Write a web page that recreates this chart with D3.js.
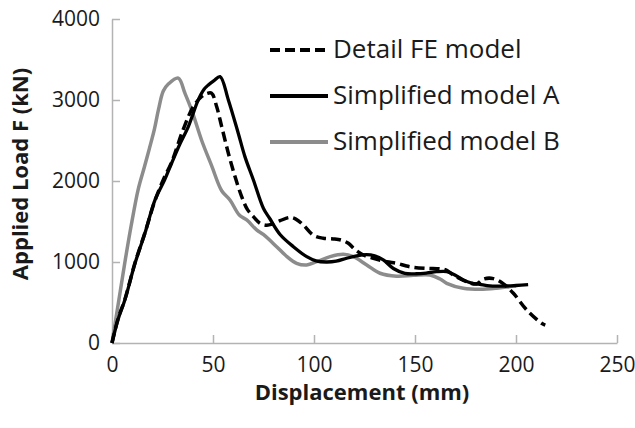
<!DOCTYPE html>
<html>
<head>
<meta charset="utf-8">
<script src="https://cdn.jsdelivr.net/npm/d3@7"></script>
<style>
  body { margin: 0; background: #fff; }
  text { font-family: "Open Sans", sans-serif; fill: #1a1a1a; }
</style>
</head>
<body>
<div id="chart"></div>
<script>
// series names, legend order
const seriesNames = ["Detail FE model", "Simplified model A", "Simplified model B"]

// Detail FE model (dashed)
const detailX = [0, 3, 6.4, 11.4, 16.3, 21.3, 26, 29.5, 35.3, 40.3, 44.4, 47, 49.3, 51.8, 54.3, 57.6, 60.9, 64.2, 67, 70, 73.3, 76.6, 79.5, 83.2, 88.1, 91, 94.7, 99.7, 104.6, 109.6, 113.5, 117, 120, 124.4, 129.4, 136, 141, 145.8, 149.2, 155.8, 162.4, 165, 169, 175.6, 180.5, 184, 188.8, 193.8, 198.7, 205.3, 212.7, 214.5]
const detailY = [0, 300, 540, 990, 1360, 1760, 2050, 2230, 2640, 2920, 3043, 3080, 3084, 2919, 2672, 2343, 2055, 1807, 1650, 1560, 1478, 1455, 1470, 1510, 1550, 1530, 1457, 1330, 1293, 1285, 1270, 1231, 1160, 1087, 1046, 1004, 984, 950, 935, 922, 915, 905, 840, 757, 729, 790, 795, 729, 614, 408, 243, 220]

// Simplified model A (black)
const modelAX = [0, 3, 6.4, 11.4, 16.3, 21.3, 26, 29.5, 33.5, 37.8, 42.7, 45.5, 47.7, 50.5, 53.5, 57.6, 62.5, 65.8, 70, 75, 78, 83.2, 89.8, 96.4, 101, 106, 111, 116.2, 121, 126, 130, 134.3, 139.3, 145, 150.8, 156, 160.7, 165.7, 169, 173.9, 178, 182, 187.1, 195.4, 200, 206]
const modelAY = [0, 290, 535, 984, 1355, 1766, 2010, 2219, 2450, 2672, 3001, 3130, 3186, 3240, 3289, 3001, 2590, 2301, 2013, 1660, 1540, 1340, 1189, 1066, 1015, 1000, 1010, 1046, 1075, 1090, 1075, 1025, 920, 860, 855, 865, 880, 881, 850, 778, 740, 725, 704, 704, 710, 720]

// Simplified model B (grey)
const modelBX = [0, 3.2, 6.4, 9.5, 13, 16, 18.5, 21, 23, 25.4, 28, 32.8, 36.1, 39.4, 44.4, 49.3, 54.3, 58.4, 63, 66.7, 71.6, 74.9, 81.5, 86, 91.4, 96.4, 101.3, 108, 114.5, 119.5, 126.1, 132.7, 140.9, 149.2, 157.4, 162.4, 165.7, 173.9, 182.2, 190.4, 197, 200]
const modelBY = [0, 500, 1000, 1450, 1900, 2170, 2400, 2640, 2880, 3110, 3200, 3270, 3084, 2878, 2500, 2190, 1880, 1766, 1580, 1519, 1396, 1340, 1189, 1080, 984, 963, 1004, 1066, 1095, 1066, 963, 861, 825, 835, 840, 790, 737, 676, 663, 676, 696, 705]

const xTicks = [0, 50, 100, 150, 200, 250]
const yTicks = [0, 1000, 2000, 3000, 4000]

const margin = { top: 19, right: 18, bottom: 85, left: 112 }
const width = 635 - margin.left - margin.right
const height = 428 - margin.top - margin.bottom

const svg = d3.select("#chart").append("svg")
    .attr("width", width + margin.left + margin.right)
    .attr("height", height + margin.top + margin.bottom)
  .append("g")
    .attr("transform", "translate(" + margin.left + "," + margin.top + ")")

const xPositionScale = d3.scaleLinear().domain([0, 250]).range([0, width])
const yPositionScale = d3.scaleLinear().domain([0, 4000]).range([height, 0])

// axes, ticks point inwards like the excel original
const yAxis = d3.axisLeft(yPositionScale)
  .tickValues(yTicks)
  .tickFormat(d3.format("d"))
  .tickSizeInner(-8)
  .tickSizeOuter(0)
  .tickPadding(12)
svg.append("g")
  .attr("class", "axis y-axis")
  .call(yAxis)

const xAxis = d3.axisBottom(xPositionScale)
  .tickValues(xTicks)
  .tickFormat(d3.format("d"))
  .tickSizeInner(-8)
  .tickSizeOuter(0)
  .tickPadding(14)
svg.append("g")
  .attr("class", "axis x-axis")
  .attr("transform", "translate(0," + height + ")")
  .call(xAxis)

svg.selectAll(".axis path, .axis line")
  .attr("stroke", "#b3b3b3")
  .attr("stroke-width", 1.5)
svg.selectAll(".axis text")
  .attr("font-size", 21)
  .attr("fill", "#1a1a1a")

// axis titles
svg.append("text")
  .attr("x", 362 - margin.left)
  .attr("y", 400 - margin.top)
  .attr("text-anchor", "middle")
  .attr("font-size", 22)
  .attr("font-weight", "bold")
  .text("Displacement (mm)")

svg.append("text")
  .attr("transform", "translate(" + (28 - margin.left) + "," + (174 - margin.top) + ") rotate(-90)")
  .attr("text-anchor", "middle")
  .attr("font-size", 22)
  .attr("font-weight", "bold")
  .text("Applied Load F (kN)")

const series = [
  { name: seriesNames[0], xs: detailX, ys: detailY, color: "#000", dash: "10,5", w: 3.5 },
  { name: seriesNames[1], xs: modelAX, ys: modelAY, color: "#000", dash: null, w: 3.3 },
  { name: seriesNames[2], xs: modelBX, ys: modelBY, color: "#8c8c8c", dash: null, w: 3.5 }
]

const line = d3.line()
  .x(d => xPositionScale(d[0]))
  .y(d => yPositionScale(d[1]))
  .curve(d3.curveCatmullRom.alpha(0.5))

// draw grey first so black sits on top
svg.selectAll(".series")
  .data(series.slice().reverse())
  .join("path")
  .attr("class", "series")
  .attr("d", d => line(d.xs.map((x, i) => [x, d.ys[i]])))
  .attr("fill", "none")
  .attr("stroke", d => d.color)
  .attr("stroke-width", d => d.w)
  .attr("stroke-dasharray", d => d.dash)
  .attr("stroke-linejoin", "round")

// legend
const legend = svg.append("g")
  .attr("transform", "translate(" + (270 - margin.left) + "," + (50 - margin.top) + ")")

const items = legend.selectAll("g")
  .data(series)
  .join("g")
  .attr("transform", (d, i) => "translate(0," + (i * 46) + ")")

items.append("line")
  .attr("x1", 0)
  .attr("x2", 58)
  .attr("stroke", d => d.color)
  .attr("stroke-width", d => d.w + 0.5)
  .attr("stroke-dasharray", d => d.dash)

items.append("text")
  .attr("x", 63)
  .attr("y", 8)
  .attr("font-size", 26)
  .text(d => d.name)
</script>
</body>
</html>
